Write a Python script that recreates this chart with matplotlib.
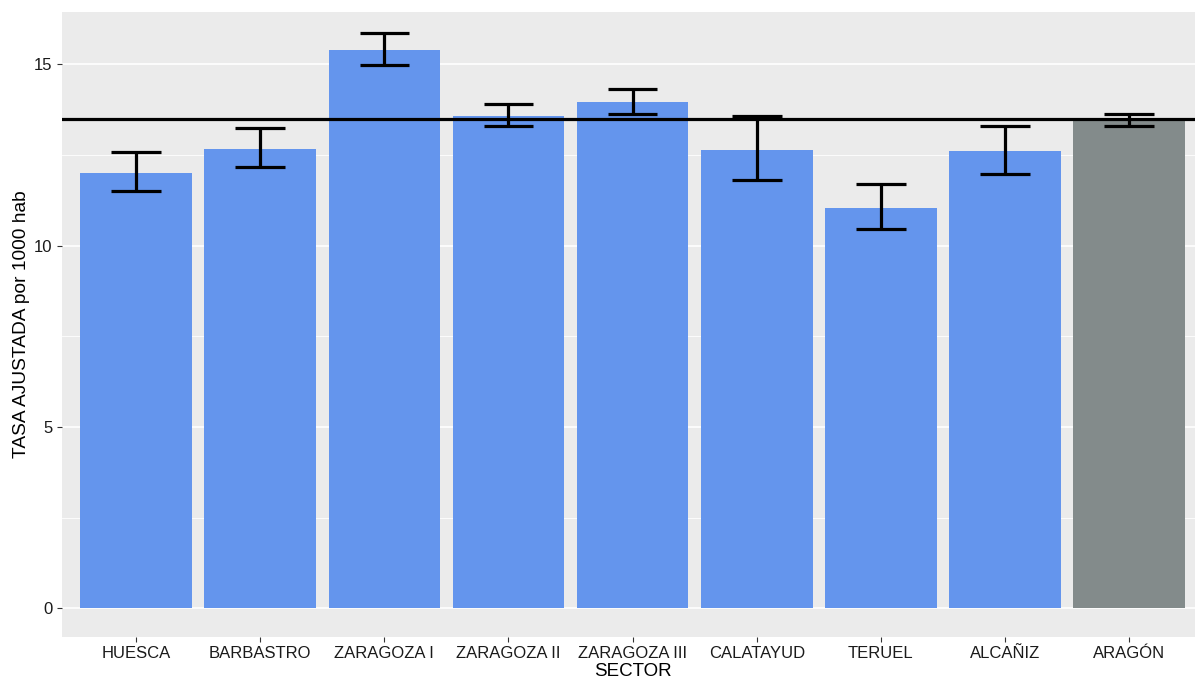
import matplotlib
matplotlib.use("Agg")
import matplotlib.pyplot as plt
import numpy as np

sectors = ["HUESCA", "BARBASTRO", "ZARAGOZA I", "ZARAGOZA II", "ZARAGOZA III",
           "CALATAYUD", "TERUEL", "ALCAÑIZ", "ARAGÓN"]
rate = [12.01, 12.67, 15.40, 13.57, 13.96, 12.63, 11.04, 12.60, 13.48]
ci_low = [11.50, 12.16, 14.97, 13.29, 13.64, 11.82, 10.46, 11.96, 13.31]
ci_high = [12.57, 13.23, 15.87, 13.89, 14.31, 13.56, 11.70, 13.30, 13.64]
reference = 13.48
bar_colors = ["#6495ED"] * 8 + ["#838B8B"]

plt.rcParams['font.family'] = ['Liberation Sans', 'DejaVu Sans']

W, H = 1195, 679
fig = plt.figure(figsize=(W / 100, H / 100), dpi=100)
left, right, top, bottom = 61.7, 1203.5, 12, 636.7
ax = fig.add_axes([left / W, 1 - bottom / H, (right - left) / W, (bottom - top) / H])
ax.set_facecolor("#EBEBEB")

x = np.arange(1, len(sectors) + 1)
ax.set_xlim(0.4, 9.6)
ax.set_ylim(-0.783, 16.44)

for v in [2.5, 7.5, 12.5]:
    ax.axhline(v, color="white", lw=0.6, zorder=0.5)
for v in [0, 5, 10, 15]:
    ax.axhline(v, color="white", lw=1.2, zorder=0.6)

ax.bar(x, rate, width=0.9, color=bar_colors, zorder=1)
ax.vlines(x, ci_low, ci_high, color="black", lw=2.3, zorder=3)
cap = 0.2
ax.hlines(ci_low, x - cap, x + cap, color="black", lw=2.3, zorder=3)
ax.hlines(ci_high, x - cap, x + cap, color="black", lw=2.3, zorder=3)
ax.axhline(reference, color="black", lw=2.3, zorder=4)

for s in ax.spines.values():
    s.set_visible(False)

ax.set_yticks([0, 5, 10, 15])
ax.set_yticklabels(["0", "5", "10", "15"])
ax.set_xticks(x)
ax.set_xticklabels(sectors)
ax.tick_params(axis="both", colors="#333333", length=3.5, width=0.8, labelsize=12,
               labelcolor="#1a1a1a", pad=3)

ax.set_xlabel("SECTOR", fontsize=13.5, labelpad=1.5, color="black")
ax.set_ylabel("TASA AJUSTADA por 1000 hab", fontsize=13.8, labelpad=3, color="black")

fig.savefig("out.png", dpi=100)
